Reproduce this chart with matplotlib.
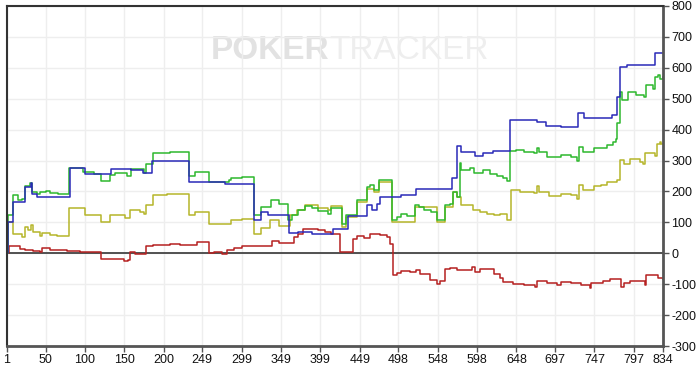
import matplotlib
matplotlib.use("Agg")
import matplotlib.pyplot as plt

# hand number where a level starts, and the level (steps-post)
blue_x = [1, 2, 9, 24, 31, 33, 39, 81, 100, 133, 159, 174, 185, 232, 278, 315, 324, 332, 359, 371,
          388, 415, 434, 458, 464, 471, 475, 502, 520, 566, 573, 578, 595, 605, 618, 640, 674, 686,
          705, 726, 734, 769, 776, 780, 788, 824, 834]
blue_y = [0, 100, 166, 215, 226, 191, 182, 276, 256, 274, 269, 261, 299, 229, 223, 107, 134, 123, 67, 69,
          61, 80, 120, 155, 139, 161, 182, 188, 208, 242, 346, 328, 314, 323, 330, 431, 425, 410,
          407, 454, 438, 447, 504, 603, 608, 648, 648]

green_x = [1, 2, 9, 15, 20, 24, 30, 33, 39, 43, 51, 56, 66, 80, 98, 111, 121, 132, 138, 153, 158, 175,
           178, 186, 208, 232, 240, 257, 283, 286, 299, 315, 324, 336, 346, 358, 363, 371, 380, 388,
           396, 409, 413, 426, 432, 445, 458, 462, 467, 473, 490, 496, 502, 509, 519, 524, 530, 539,
           547, 557, 564, 568, 573, 576, 578, 589, 594, 606, 614, 623, 631, 636, 640, 648, 657, 670,
           674, 677, 687, 704, 717, 725, 727, 733, 746, 763, 771, 775, 776, 779, 782, 790, 800, 810,
           812, 822, 824, 828, 830, 834]
green_y = [0, 123, 188, 171, 177, 218, 228, 199, 191, 199, 202, 195, 191, 277, 263, 258, 234, 252, 260, 249, 272, 261,
           290, 323, 326, 249, 263, 231, 236, 242, 247, 123, 150, 171, 159, 107, 123, 141, 152, 145,
           137, 126, 145, 96, 123, 171, 215, 220, 204, 236, 107, 118, 128, 121, 155, 150, 139, 134,
           107, 155, 160, 199, 182, 292, 269, 277, 260, 269, 256, 249, 242, 234, 331, 334, 328, 323,
           339, 328, 312, 317, 310, 299, 344, 328, 339, 350, 360, 371, 420, 522, 495, 522, 511, 504,
           544, 530, 571, 575, 565, 569]

olive_x = [1, 2, 9, 20, 24, 28, 31, 34, 43, 45, 56, 64, 80, 100, 121, 132, 151, 157, 170, 175, 177,
           186, 204, 232, 240, 257, 286, 299, 315, 324, 335, 346, 360, 369, 380, 396, 409, 413, 426,
           432, 445, 458, 467, 473, 490, 519, 547, 557, 568, 573, 578, 593, 602, 610, 619, 627, 636,
           641, 653, 670, 674, 677, 689, 704, 717, 725, 727, 733, 746, 755, 763, 776, 780, 784, 792,
           805, 809, 811, 824, 826, 830, 832, 834]
olive_y = [0, 100, 62, 53, 85, 75, 91, 69, 55, 66, 60, 55, 145, 125, 101, 123, 114, 141, 135, 128, 157,
           188, 193, 123, 134, 96, 107, 112, 64, 83, 107, 87, 123, 139, 155, 145, 139, 152, 85,
           118, 166, 209, 199, 231, 101, 150, 101, 150, 199, 182, 155, 139, 134, 128, 123, 128, 109,
           206, 199, 195, 217, 199, 184, 191, 188, 174, 220, 204, 217, 220, 231, 236, 303, 290, 306,
           295, 290, 323, 314, 355, 360, 353, 353]

red_x = [1, 4, 18, 24, 34, 43, 45, 56, 64, 77, 94, 121, 149, 155, 157, 164, 177, 187, 200, 208, 221,
         242, 250, 257, 264, 274, 280, 289, 299, 337, 346, 365, 371, 377, 396, 405, 413, 424, 441,
         445, 454, 462, 475, 483, 488, 491, 496, 502, 513, 521, 525, 532, 538, 547, 551, 557, 564,
         572, 591, 595, 602, 614, 619, 627, 631, 644, 657, 672, 674, 687, 699, 705, 717, 730, 741,
         743, 758, 767, 775, 781, 785, 792, 811, 812, 822, 828, 834]
red_y = [0, 23, 13, 10, 7, 4, 18, 12, 10, 7, 4, -20, -26, -22, 4, -1, 24, 26, 28, 31, 28,
         37, 35, 1, 4, -1, 10, 17, 23, 40, 33, 53, 64, 80, 75, 69, 64, 4, 47,
         55, 50, 64, 60, 53, 31, -71, -65, -57, -60, -55, -66, -68, -87, -98, -90, -50, -48,
         -55, -44, -60, -50, -52, -66, -79, -93, -100, -103, -109, -91, -96, -104, -93, -96, -104, -111,
         -95, -91, -82, -84, -109, -95, -91, -104, -69, -71, -79, -82]

x_ticks = [1, 50, 100, 150, 200, 249, 299, 349, 399, 449, 498, 548, 598, 648, 697, 747, 797, 834]
y_ticks = [800, 700, 600, 500, 400, 300, 200, 100, 0, -100, -200, -300]

plt.rcParams['font.family'] = ['Liberation Sans', 'DejaVu Sans']
fig = plt.figure(figsize=(7.0, 3.67), dpi=100)
ax = fig.add_axes([0.01, 0.057, 0.937, 0.927])

ax.set_xlim(1, 834)
ax.set_ylim(-300, 800)
ax.set_xticks(x_ticks)
ax.set_xticklabels([str(t) for t in x_ticks])
ax.set_yticks(y_ticks)
ax.set_yticklabels([str(t) for t in y_ticks])
ax.yaxis.tick_right()
ax.grid(True, color="#eeeeee", linewidth=1)
ax.set_axisbelow(True)

# watermark
ax.text(0.492, 0.868, "POKER", transform=ax.transAxes, ha="right", va="center",
        fontsize=24, fontweight="bold", color="#e2e2e2", zorder=0)
ax.text(0.492, 0.868, "TRACKER", transform=ax.transAxes, ha="left", va="center",
        fontsize=24, color="#eeeeee", zorder=0)

ax.axhline(0, color="#444444", linewidth=1.3, zorder=1)

lw = 1.1
ax.plot(red_x, red_y, drawstyle="steps-post", color="#b52020", linewidth=lw)
ax.plot(olive_x, olive_y, drawstyle="steps-post", color="#b5b52a", linewidth=lw)
ax.plot(green_x, green_y, drawstyle="steps-post", color="#2db82d", linewidth=lw)
ax.plot(blue_x, blue_y, drawstyle="steps-post", color="#2a2ab8", linewidth=lw)

for side in ["top", "left"]:
    ax.spines[side].set_color("#333333")
    ax.spines[side].set_linewidth(1.5)
for side in ["bottom", "right"]:
    ax.spines[side].set_color("#555555")
    ax.spines[side].set_linewidth(2)

ax.tick_params(axis="y", direction="out", length=4, width=1, color="#555555",
               labelsize=9, pad=2, labelcolor="#111111")
ax.tick_params(axis="x", direction="out", length=4, width=1, color="#555555",
               labelsize=9, pad=2, labelcolor="#111111")

fig.savefig("out.png", dpi=100)
